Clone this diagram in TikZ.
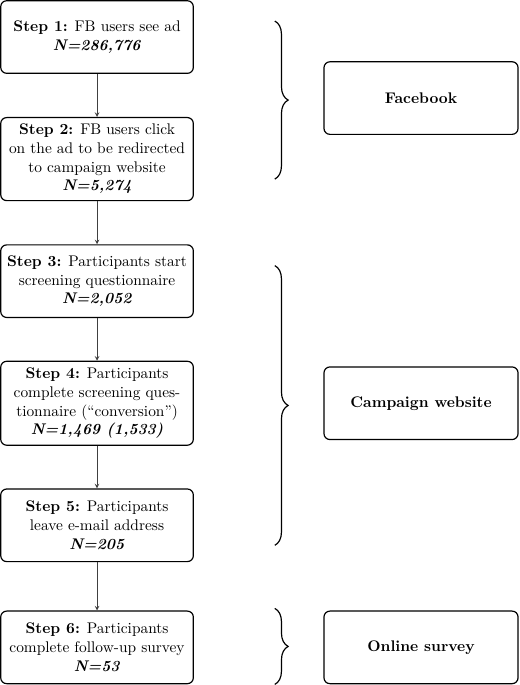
\documentclass[tikz,border=0pt]{standalone}
\usetikzlibrary{calc,decorations.pathreplacing}

\tikzset{
  stepbox/.style={draw, thick, rounded corners=4pt, align=center,
    minimum width=130pt, minimum height=49pt, inner xsep=1pt, inner ysep=4.5pt,
    font=\fontsize{10.4}{12.6}\selectfont},
  groupbox/.style={draw, thick, rounded corners=4pt,
    minimum width=131pt, minimum height=49pt, font=\fontsize{10.4}{12.6}\selectfont\bfseries},
  flow/.style={->, >=stealth, black!75},
  brace/.style={decorate, decoration={brace, amplitude=9pt}, thick},
}

\begin{document}
\begin{tikzpicture}[node distance=82.4pt]
% steps
\node[stepbox] (s1) {\textbf{Step 1:} FB users see ad\\ \textbf{\textit{N=286,776}}};
\node[stepbox, below of=s1] (s2) {\textbf{Step 2:} FB users click\\ on the ad to be redirected\\ to campaign website\\ \textbf{\textit{N=5,274}}};
\node[stepbox, below of=s2] (s3) {\textbf{Step 3:} Participants start\\ screening questionnaire\\ \textbf{\textit{N=2,052}}};
\node[stepbox, below of=s3] (s4) {\textbf{Step 4:} Participants\\ complete screening ques-\\ tionnaire (``conversion'')\\ \textbf{\textit{N=1,469 (1,533)}}};
\node[stepbox, below of=s4] (s5) {\textbf{Step 5:} Participants\\ leave e-mail address\\ \textbf{\textit{N=205}}};
\node[stepbox, below of=s5] (s6) {\textbf{Step 6:} Participants\\ complete follow-up survey\\ \textbf{\textit{N=53}}};

\draw[flow] (s1) -- (s2);
\draw[flow] (s2) -- (s3);
\draw[flow] (s3) -- (s4);
\draw[flow] (s4) -- (s5);
\draw[flow] (s5) -- (s6);

% groups
\coordinate (m12) at ($(s1)!0.5!(s2)$);
\coordinate (m35) at ($(s3)!0.5!(s5)$);
\node[groupbox, right of=m12, node distance=218.7pt] (fb) {Facebook};
\node[groupbox, right of=m35, node distance=218.7pt] (web) {Campaign website};
\node[groupbox, right of=s6, node distance=218.7pt] (survey) {Online survey};

% braces
\coordinate (fb-top) at ($(s1)+(120pt,10.8pt)$);
\coordinate (fb-bot) at ($(s2)+(120pt,-13.5pt)$);
\coordinate (web-top) at ($(s3)+(120pt,10.5pt)$);
\coordinate (web-bot) at ($(s5)+(120pt,-13.5pt)$);
\coordinate (sv-top) at ($(s6)+(120pt,26.3pt)$);
\coordinate (sv-bot) at ($(s6)+(120pt,-25pt)$);
\draw[brace] (fb-top) -- (fb-bot);
\draw[brace] (web-top) -- (web-bot);
\draw[brace] (sv-top) -- (sv-bot);

\useasboundingbox ($(s1)+(-65.5pt,25pt)$) rectangle ($(s1)+(284.9pt,-437.4pt)$);
\end{tikzpicture}
\end{document}
